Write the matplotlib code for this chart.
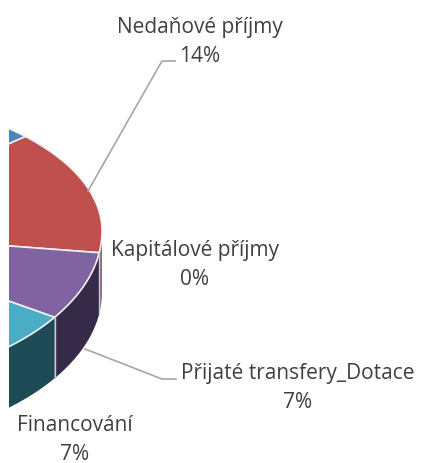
import numpy as np
import matplotlib
matplotlib.use("Agg")
import matplotlib.pyplot as plt
from matplotlib.patches import Polygon

categories = ["Daňové příjmy", "Nedaňové příjmy", "Kapitálové příjmy",
              "Přijaté transfery_Dotace", "Financování"]
shares = [72, 14, 0, 7, 7]
top_colors = ["#4f81bd", "#c0504d", "#9bbb59", "#8064a2", "#4bacc6"]
side_colors = ["#2c4d75", "#8d6a73", "#5f7530", "#352a47", "#1e4a55"]

cx, cy = -190, 232
a, b_top, b_bottom = 292, 140, 158
depth = 61
start = 42.5
left = 9


def rim(t0, t1, dy=0):
    t = np.radians(np.linspace(t0, t1, 160))
    s = np.sin(t)
    # the near half of the ellipse looks a bit deeper than the far half
    return np.column_stack((cx + a * np.cos(t),
                            cy - np.where(s > 0, b_top, b_bottom) * s + dy))


def main():
    plt.rcParams["font.family"] = ["Open Sans", "DejaVu Sans"]
    fig = plt.figure(figsize=(4.21, 4.64), dpi=100)
    # the pie is cut off at the left edge of the axes
    ax = fig.add_axes([left / 421, 0, 1 - left / 421, 1])
    ax.set_xlim(left, 421)
    ax.set_ylim(464, 0)
    ax.axis("off")

    # red first, going clockwise, blue wraps round to the start
    order = [1, 2, 3, 4, 0]
    t = start
    spans = {}
    for i in order:
        spans[i] = (t, t - shares[i] * 3.6)
        t = spans[i][1]

    # outer wall, only the part facing the viewer
    for i in order:
        t0, t1 = spans[i]
        t0, t1 = min(t0, 0), max(t1, -180)
        if t0 <= t1:
            continue
        pts = np.vstack((rim(t0, t1), rim(t1, t0, depth)))
        ax.add_patch(Polygon(pts, fc=side_colors[i], ec="none"))
        end = rim(t1, t1)[0]
        ax.plot([end[0], end[0]], [end[1], end[1] + depth], color="#c9cdd3", lw=1)

    # top face
    for i in order:
        t0, t1 = spans[i]
        if t0 == t1:
            continue
        pts = np.vstack(([[cx, cy]], rim(t0, t1)))
        ax.add_patch(Polygon(pts, fc=top_colors[i], ec="#f2f2f2", lw=1.2))

    # leader lines
    line = "#a6a6a6"
    ax.plot([88, 162, 175], [192, 62, 62], color=line, lw=1.2)
    ax.plot([85, 162, 176], [350, 380, 380], color=line, lw=1.2)

    # labels
    txt = "#404040"
    for name, share, x, y in [(categories[1], shares[1], 200, 42),
                              (categories[2], shares[2], 195, 265),
                              (categories[3], shares[3], 298, 388),
                              (categories[4], shares[4], 75, 440)]:
        ax.text(x, y, f"{name}\n{share}%", ha="center", va="center",
                fontsize=15, color=txt, linespacing=1.55)

    fig.savefig("out.png", dpi=100)


if __name__ == "__main__":
    main()
